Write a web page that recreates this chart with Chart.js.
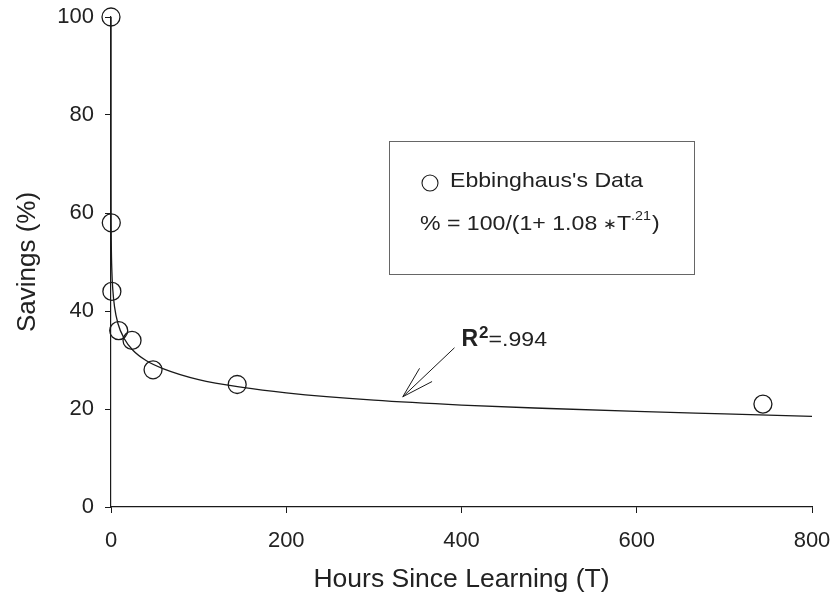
<!DOCTYPE html>
<html><head><meta charset="utf-8">
<script src="https://cdn.jsdelivr.net/npm/chart.js@4"></script>
<style>html,body{margin:0;padding:0;background:#fff}#wrap{width:835px;height:602px;position:relative}</style>
</head><body><div id="wrap"><canvas id="c" width="835" height="602"></canvas></div>
<script>
// Ebbinghaus's savings data (hours since learning, % savings)
const hours   = [0, 0.33, 1, 8.8, 24, 48, 144, 744];
const savings = [100, 58, 44, 36, 34, 28, 25, 21];
// fitted curve
const fitHours   = [0, 0.0001, 0.001, 0.01, 0.1, 0.33, 1, 2, 4, 8, 15, 25, 40, 60, 100, 150, 200, 300, 400, 500, 600, 700, 800];
const fitSavings = [100, 86.5, 79.8, 70.9, 60.0, 53.9, 48.1, 44.5, 40.9, 37.4, 34.4, 32.0, 29.9, 28.2, 26.0, 24.4, 23.3, 21.8, 20.8, 20.1, 19.5, 19.0, 18.5];
const xTicks = [0, 200, 400, 600, 800];
const yTicks = [0, 20, 40, 60, 80, 100];
const legendLabel = "Ebbinghaus's Data";
const rSquared = ".994";
// annotation arrow anchor (data units): tail near label, tip on curve
const arrowTail = {x: 392, y: 32.5};
const arrowTip  = {x: 333, y: 22.5};

const FONT = '"Liberation Sans", Arial, Helvetica, sans-serif';
Chart.defaults.font.family = FONT;
Chart.defaults.color = '#222';

const ink = '#1a1a1a';

const annot = {
  id: 'annot',
  afterDraw(chart) {
    const ctx = chart.ctx;
    const xs = chart.scales.x, ys = chart.scales.y;
    ctx.save();
    // legend box
    ctx.strokeStyle = '#666';
    ctx.lineWidth = 1;
    ctx.strokeRect(389.5, 141.5, 305, 133);
    // legend symbol
    ctx.beginPath();
    ctx.arc(430, 183, 8, 0, Math.PI * 2);
    ctx.strokeStyle = ink; ctx.lineWidth = 1.1; ctx.stroke();
    ctx.fillStyle = '#222';
    ctx.textBaseline = 'alphabetic';
    const sx = 1.1;
    function txt(s, x, y, font) {
      ctx.font = font;
      ctx.save(); ctx.translate(x, y); ctx.scale(sx, 1); ctx.fillText(s, 0, 0); ctx.restore();
      return x + ctx.measureText(s).width * sx;
    }
    txt(legendLabel, 450, 187, '21px ' + FONT);
    let x = 420;
    x = txt('% = 100/(1+ 1.08 ', x, 230, '21px ' + FONT);
    x = txt('\u2217', x - 1, 229, '15px ' + FONT);
    x = txt('T', x, 230, '21px ' + FONT);
    x = txt('.21', x, 220, '13px ' + FONT);
    x = txt(')', x + 1, 230, '21px ' + FONT);

    // R^2 label
    let rx = xs.getPixelForValue(400);
    const ry = ys.getPixelForValue(32.8);
    ctx.font = 'bold 23px ' + FONT;
    ctx.fillText('R', rx, ry); rx += ctx.measureText('R').width + 1;
    ctx.font = 'bold 17px ' + FONT;
    ctx.fillText('2', rx, ry - 8); rx += ctx.measureText('2').width;
    txt('=' + rSquared, rx, ry, '21px ' + FONT);

    // arrow
    const tx = xs.getPixelForValue(arrowTail.x), ty = ys.getPixelForValue(arrowTail.y);
    const px = xs.getPixelForValue(arrowTip.x), py = ys.getPixelForValue(arrowTip.y);
    ctx.strokeStyle = ink; ctx.lineWidth = 1;
    ctx.beginPath(); ctx.moveTo(tx, ty); ctx.lineTo(px, py); ctx.stroke();
    const ang = Math.atan2(ty - py, tx - px);
    const L = 33, d = 16 * Math.PI / 180;
    ctx.beginPath();
    ctx.moveTo(px + L * Math.cos(ang - d), py + L * Math.sin(ang - d));
    ctx.lineTo(px, py);
    ctx.lineTo(px + L * Math.cos(ang + d), py + L * Math.sin(ang + d));
    ctx.stroke();
    ctx.restore();
  }
};

new Chart(document.getElementById('c'), {
  type: 'scatter',
  data: {
    datasets: [
      {
        label: 'fit',
        type: 'line',
        data: fitHours.map((h, i) => ({x: h, y: fitSavings[i]})),
        borderColor: ink, borderWidth: 1.3,
        pointRadius: 0, fill: false,
        cubicInterpolationMode: 'monotone',
        clip: false
      },
      {
        label: legendLabel,
        data: hours.map((h, i) => ({x: h, y: savings[i]})),
        pointStyle: 'circle', pointRadius: 9, pointHoverRadius: 9,
        borderColor: ink, borderWidth: 1.3, backgroundColor: 'rgba(0,0,0,0)',
        showLine: false, clip: false
      }
    ]
  },
  options: {
    responsive: false, animation: false, devicePixelRatio: 1,
    layout: {padding: {top: 17, right: 23, left: 0, bottom: 0}},
    plugins: {legend: {display: false}, tooltip: {enabled: false}},
    events: [],
    scales: {
      x: {
        type: 'linear', min: 0, max: 800,
        afterBuildTicks: s => { s.ticks = xTicks.map(v => ({value: v})); },
        afterFit: s => { s.height = 95; s.paddingLeft = 0; s.paddingRight = 0; },
        grid: {drawOnChartArea: false, drawTicks: true, tickLength: 6, tickColor: ink, tickWidth: 1},
        border: {display: true, color: ink, width: 1.2},
        ticks: {font: {size: 22}, color: '#222', padding: 15, maxRotation: 0, autoSkip: false},
        title: {display: true, text: 'Hours Since Learning (T)', font: {size: 26.5}, color: '#222', padding: {top: 0, bottom: 6}}
      },
      y: {
        type: 'linear', min: 0, max: 100,
        afterBuildTicks: s => { s.ticks = yTicks.map(v => ({value: v})); },
        afterFit: s => { s.width = 111; s.paddingTop = 0; s.paddingBottom = 0; },
        grid: {drawOnChartArea: false, drawTicks: true, tickLength: 6, tickColor: ink, tickWidth: 1},
        border: {display: true, color: ink, width: 1.2},
        ticks: {font: {size: 22}, color: '#222', padding: 11, autoSkip: false},
        title: {display: true, text: 'Savings (%)', font: {size: 26}, color: '#222', padding: {top: 12, bottom: 0}}
      }
    }
  },
  plugins: [annot]
});
</script></body></html>
